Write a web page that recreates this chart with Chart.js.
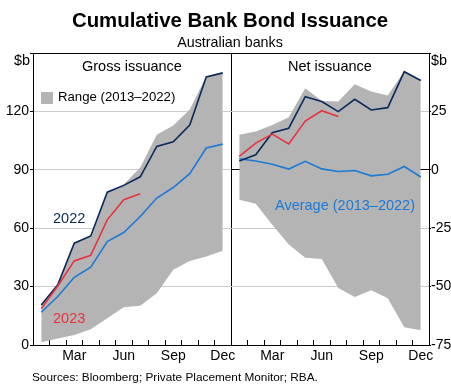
<!DOCTYPE html>
<html>
<head>
<meta charset="utf-8">
<script src="https://cdn.jsdelivr.net/npm/chart.js@4.4.1/dist/chart.umd.min.js"></script>
<style>
  body { margin: 0; background: #fff; }
  #wrap { position: relative; width: 451px; height: 385px; overflow: hidden; font-family: Arial, "Liberation Sans", sans-serif; }
  #wrap canvas { position: absolute; left: 0; top: 0; }
  .t { position: absolute; line-height: 1; white-space: nowrap; color: #000; }
</style>
</head>
<body>
<div id="wrap">
  <canvas id="gross" width="451" height="385"></canvas>
  <canvas id="net" width="451" height="385"></canvas>
  <div class="t" style="left:0;width:460px;text-align:center;top:10px;font-size:20.4px;font-weight:bold;">Cumulative Bank Bond Issuance</div>
  <div class="t" style="left:0;width:460px;text-align:center;top:35px;font-size:14.3px;">Australian banks</div>
  <div class="t" style="left:14px;top:53px;font-size:14.4px;">$b</div>
  <div class="t" style="left:431px;top:53px;font-size:14.4px;">$b</div>
  <div class="t" style="left:82px;top:59px;font-size:14.5px;">Gross issuance</div>
  <div class="t" style="left:288px;top:59px;font-size:14.5px;">Net issuance</div>
  <div style="position:absolute;left:41px;top:92px;width:12px;height:12px;background:#b4b4b4;"></div>
  <div class="t" style="left:58px;top:90px;font-size:13.2px;">Range (2013–2022)</div>
  <div class="t" style="left:53px;top:211px;font-size:14.5px;color:#0b2a5b;">2022</div>
  <div class="t" style="left:53px;top:311px;font-size:14.5px;color:#e8323f;">2023</div>
  <div class="t" style="left:275px;top:198px;font-size:14.5px;color:#1c7ad6;">Average (2013–2022)</div>
  <div class="t" style="left:32px;top:372px;font-size:11.8px;">Sources: Bloomberg; Private Placement Monitor; RBA.</div>
</div>
<script>
// months on both panels
const months = ['Jan', 'Feb', 'Mar', 'Apr', 'May', 'Jun', 'Jul', 'Aug', 'Sep', 'Oct', 'Nov', 'Dec'];
const shownMonths = ['Mar', 'Jun', 'Sep', 'Dec'];

// Gross issuance ($b)
const gross2022 = [20.6, 30.9, 52.3, 56, 78.5, 82, 86.4, 102, 104.4, 113, 137.7, 139.8];
const gross2023 = [18.7, 30.3, 43.2, 46.1, 64.3, 74.6, 77.7, null, null, null, null, null];
const grossAvg = [16.8, 24.9, 34.8, 40, 53.1, 57.8, 66, 75.5, 80.9, 88, 101.2, 103.2];
const grossRangeLow = [1.4, 3.4, 5.1, 8.1, 13.7, 19.4, 20.2, 26.6, 38.6, 43.2, 45.4, 48.4];
const grossRangeHigh = [21, 31.2, 52.5, 56.2, 78.7, 82.5, 91.2, 108, 112.7, 121, 137.9, 140];
const grossTicks = [0, 30, 60, 90, 120];

// Net issuance ($b)
const net2022 = [3.8, 6.4, 15.9, 17.8, 31.3, 29.2, 24.9, 30.2, 25.6, 26.6, 42, 38.2];
const net2023 = [5.7, 11.4, 15.3, 11.1, 20.9, 25.3, 22.8, null, null, null, null, null];
const netAvg = [4.7, 3.8, 2.4, 0.3, 3.6, 0.4, -0.7, -0.3, -2.6, -1.9, 1.4, -3.1];
const netRangeLow = [-12.8, -14.5, -23.5, -32, -37.7, -38.2, -50.6, -54.4, -51.6, -55, -67.4, -68.7];
const netRangeHigh = [15, 16.4, 19.2, 22.5, 34.9, 29.5, 29.2, 36.6, 33.5, 31.8, 42.2, 38.4];
const netTicks = [-75, -50, -25, 0, 25];

const navy = '#0b2a5b';
const red = '#e8323f';
const blue = '#1c7ad6';
const bandGrey = '#b4b4b4';
const gridGrey = '#cccccc';
const tickFont = { family: 'Arial, "Liberation Sans", sans-serif', size: 14 };

function lineSet(data, color) {
    return {
        data: data,
        borderColor: color,
        borderWidth: 1.6,
        pointRadius: 0,
        tension: 0,
        fill: false,
        spanGaps: false
    };
}

function buildDatasets(d2023, d2022, avg, low, high) {
    return [
        lineSet(d2023, red),
        lineSet(d2022, navy),
        lineSet(avg, blue),
        { data: low, borderWidth: 0, pointRadius: 0, fill: false, tension: 0 },
        { data: high, borderWidth: 0, pointRadius: 0, fill: '-1', backgroundColor: bandGrey, tension: 0 }
    ];
}

function xAxis() {
    return {
        type: 'category',
        offset: true,
        afterFit: s => { s.height = 22; },
        border: { display: true, color: '#000', width: 1 },
        grid: {
            offset: true,
            drawOnChartArea: false,
            tickLength: -5,
            color: '#000'
        },
        ticks: {
            autoSkip: false,
            maxRotation: 0,
            padding: 8,
            color: '#000',
            font: tickFont,
            callback: function (val) {
                const m = this.getLabelForValue(val);
                return shownMonths.includes(m) ? m : '';
            }
        }
    };
}

function yAxis(position, min, max, tickList, darkValues, width, tickLen, pad) {
    return {
        position: position,
        min: min,
        max: max,
        afterFit: s => { s.width = width; },
        afterBuildTicks: s => {
            s.ticks = tickList.concat([max]).map(v => ({ value: v }));
        },
        border: { display: true, color: '#000', width: 1 },
        grid: {
            color: c => darkValues.includes(c.tick.value) ? '#000' : gridGrey,
            tickColor: '#000',
            tickLength: tickLen,
            lineWidth: 1
        },
        ticks: {
            padding: pad,
            color: '#000',
            font: tickFont,
            callback: v => (v === max ? '' : v)
        }
    };
}

const commonOptions = {
    responsive: false,
    animation: false,
    events: [],
    plugins: { legend: { display: false }, tooltip: { enabled: false } }
};

new Chart(document.getElementById('gross').getContext('2d'), {
    type: 'line',
    data: {
        labels: months,
        datasets: buildDatasets(gross2023, gross2022, grossAvg, grossRangeLow, grossRangeHigh)
    },
    options: {
        ...commonOptions,
        layout: { padding: { left: 0, top: 53, right: 220, bottom: 18 } },
        scales: {
            x: xAxis(),
            y: yAxis('left', 0, 150, grossTicks, [0, 150], 33, 3, 1),
            // panel separator
            y2: {
                position: 'right',
                min: 0,
                max: 150,
                afterFit: s => { s.width = 0; },
                border: { display: true, color: '#000', width: 1 },
                grid: { drawOnChartArea: false, drawTicks: false },
                ticks: { display: false }
            }
        }
    }
});

new Chart(document.getElementById('net').getContext('2d'), {
    type: 'line',
    data: {
        labels: months,
        datasets: buildDatasets(net2023, net2022, netAvg, netRangeLow, netRangeHigh)
    },
    options: {
        ...commonOptions,
        layout: { padding: { left: 231, top: 53, right: 0, bottom: 18 } },
        scales: {
            x: xAxis(),
            y: yAxis('right', -75, 50, netTicks, [0, 50], 22, 2, 0)
        }
    }
});
</script>
</body>
</html>
